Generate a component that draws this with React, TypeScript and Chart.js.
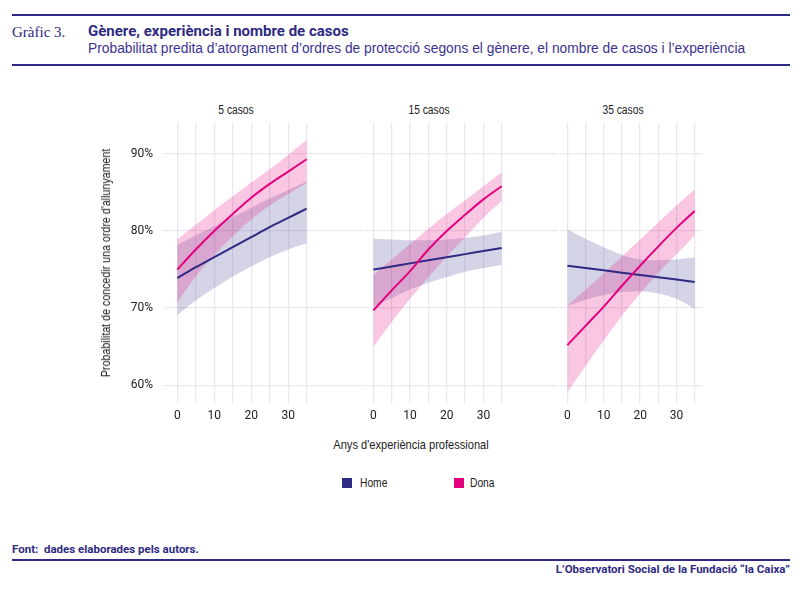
import React, { useEffect, useRef } from 'react';
import { Chart, registerables } from 'chart.js';

Chart.register(...registerables);

// years of professional experience
const years = [0, 5, 10, 15, 20, 25, 30, 35];
const xTicks = [0, 5, 10, 15, 20, 25, 30, 35];
const yTicks = [60, 70, 80, 90];
const panelTitles = ['5 casos', '15 casos', '35 casos'];

// 5 casos
const home5 = [73.9, 75.3, 76.6, 77.9, 79.2, 80.5, 81.7, 82.9];
const home5Upper = [78.2, 79.4, 80.6, 81.8, 83.0, 84.2, 85.3, 86.4];
const home5Lower = [69.1, 71.0, 72.6, 74.1, 75.4, 76.6, 77.6, 78.4];
const dona5 = [75.0, 77.6, 80.0, 82.2, 84.3, 86.1, 87.7, 89.3];
const dona5Upper = [78.9, 80.8, 82.7, 84.5, 86.3, 88.0, 89.9, 91.8];
const dona5Lower = [70.7, 74.1, 76.9, 79.3, 81.5, 83.3, 84.8, 86.2];

// 15 casos
const home15 = [75.0, 75.4, 75.8, 76.2, 76.6, 77.0, 77.4, 77.8];
const home15Upper = [79.0, 78.9, 78.8, 78.8, 78.9, 79.1, 79.4, 79.9];
const home15Lower = [70.2, 71.3, 72.4, 73.3, 74.0, 74.7, 75.2, 75.6];
const dona15 = [69.7, 72.3, 74.8, 77.6, 80.0, 82.1, 84.1, 85.8];
const dona15Upper = [74.3, 76.3, 78.3, 80.3, 82.2, 84.0, 85.8, 87.6];
const dona15Lower = [65.0, 68.2, 71.2, 74.0, 76.7, 79.2, 81.7, 83.9];

// 35 casos
const home35 = [75.5, 75.2, 74.9, 74.6, 74.3, 74.0, 73.7, 73.4];
const home35Upper = [80.2, 79.0, 77.9, 76.9, 76.3, 76.2, 76.3, 76.6];
const home35Lower = [70.3, 71.1, 71.7, 72.1, 72.2, 71.9, 71.2, 69.9];
const dona35 = [65.2, 67.7, 70.2, 72.9, 75.5, 78.0, 80.4, 82.6];
const dona35Upper = [70.3, 72.4, 74.5, 76.7, 78.9, 81.1, 83.3, 85.4];
const dona35Lower = [59.1, 62.5, 65.8, 69.0, 71.9, 74.6, 77.0, 79.4];

const panels = [
  { home: home5, homeUp: home5Upper, homeLo: home5Lower, dona: dona5, donaUp: dona5Upper, donaLo: dona5Lower },
  { home: home15, homeUp: home15Upper, homeLo: home15Lower, dona: dona15, donaUp: dona15Upper, donaLo: dona15Lower },
  { home: home35, homeUp: home35Upper, homeLo: home35Lower, dona: dona35, donaUp: dona35Upper, donaLo: dona35Lower },
];

const NAVY = '#2e2a83';
const PINK = '#e5007d';
const HOME_FILL = 'rgba(46, 42, 131, 0.2)';
const DONA_FILL = 'rgba(229, 0, 125, 0.22)';
const GRID = '#e9e7f0';
const SANS = '"Liberation Sans", Arial, sans-serif';

// canvas placement of each facet (page px) and x range so the panels join up
const layout = [
  { left: 90, width: 274, xMin: -3.86, xMax: 50.5, yAxis: true },
  { left: 364, width: 194, xMin: -2.08, xMax: 50.35, yAxis: false },
  { left: 558, width: 144, xMin: -1.89, xMax: 37.0, yAxis: false },
];
const CANVAS_TOP = 101;
const CANVAS_H = 334;

const pts = (vals: number[]) => vals.map((y, i) => ({ x: years[i], y }));

const Panel: React.FC<{ idx: number }> = ({ idx }) => {
  const ref = useRef<HTMLCanvasElement>(null);
  const inst = useRef<Chart | null>(null);

  useEffect(() => {
    if (!ref.current) return;
    const p = panels[idx];
    const l = layout[idx];
    if (inst.current) inst.current.destroy();

    const band = (vals: number[], color: string, fill: any) => ({
      data: pts(vals),
      borderWidth: 0,
      borderColor: 'transparent',
      backgroundColor: color,
      pointRadius: 0,
      fill,
      cubicInterpolationMode: 'monotone' as const,
    });
    const line = (vals: number[], color: string) => ({
      data: pts(vals),
      borderWidth: 2,
      borderColor: color,
      pointRadius: 0,
      fill: false,
      cubicInterpolationMode: 'monotone' as const,
    });

    inst.current = new Chart(ref.current, {
      type: 'line',
      data: {
        datasets: [
          { label: 'Dona', ...line(p.dona, PINK) },
          { label: 'Home', ...line(p.home, NAVY) },
          { label: 'dona sup', ...band(p.donaUp, DONA_FILL, '+1') },
          { label: 'dona inf', ...band(p.donaLo, DONA_FILL, false) },
          { label: 'home sup', ...band(p.homeUp, HOME_FILL, '+1') },
          { label: 'home inf', ...band(p.homeLo, HOME_FILL, false) },
        ] as any,
      },
      options: {
        responsive: false,
        animation: false,
        events: [],
        layout: { padding: { top: 22, bottom: 0, left: 0, right: 0 } },
        plugins: {
          legend: { display: false },
          tooltip: { enabled: false },
          title: { display: false },
        },
        scales: {
          x: {
            type: 'linear',
            min: l.xMin,
            max: l.xMax,
            afterBuildTicks: (axis: any) => {
              axis.ticks = xTicks.map((v) => ({ value: v }));
            },
            afterFit: (axis: any) => {
              axis.height = 32;
            },
            grid: { color: GRID, lineWidth: 1.3, drawTicks: false },
            border: { display: false },
            ticks: {
              padding: 6,
              color: '#222',
              font: { family: 'Roboto', size: 12 },
              maxRotation: 0,
              autoSkip: false,
              callback: (v: any) => (Number(v) % 10 === 0 ? String(v) : ''),
            },
          },
          y: {
            type: 'linear',
            min: 57.7,
            max: 94.0,
            afterBuildTicks: (axis: any) => {
              axis.ticks = yTicks.map((v) => ({ value: v }));
            },
            afterFit: (axis: any) => {
              axis.width = l.yAxis ? 73 : 0;
            },
            grid: { color: GRID, lineWidth: 1.3, drawTicks: false },
            border: { display: false },
            ticks: {
              display: l.yAxis,
              padding: 10,
              color: '#222',
              font: { family: 'Roboto', size: 12 },
              callback: (v: any) => v + '%',
            },
          },
        },
      },
    });

    return () => {
      if (inst.current) {
        inst.current.destroy();
        inst.current = null;
      }
    };
  }, [idx]);

  const l = layout[idx];
  return (
    <canvas
      ref={ref}
      width={l.width}
      height={CANVAS_H}
      style={{ position: 'absolute', left: l.left, top: CANVAS_TOP, width: l.width, height: CANVAS_H }}
    />
  );
};

// narrow sans look: Liberation Sans squeezed sideways
const narrow = (fontSize: number, origin: string, extra: React.CSSProperties = {}): React.CSSProperties => ({
  position: 'absolute',
  whiteSpace: 'nowrap',
  margin: 0,
  fontFamily: SANS,
  fontSize,
  lineHeight: `${Math.round(fontSize + 3)}px`,
  color: '#222',
  transform: 'scaleX(0.82)',
  transformOrigin: origin,
  ...extra,
});

const App: React.FC = () => {
  const titleCenters = [236, 429, 623];
  return (
    <div
      style={{
        position: 'absolute',
        left: 0,
        top: 0,
        width: 800,
        height: 591,
        background: '#fff',
        overflow: 'hidden',
        fontFamily: SANS,
      }}
    >
      <div style={{ position: 'absolute', left: 12, top: 14, width: 778, height: 2, background: NAVY }} />
      <div style={{ position: 'absolute', left: 12, top: 64, width: 778, height: 2, background: NAVY }} />
      <div
        style={{
          position: 'absolute',
          whiteSpace: 'nowrap',
          left: 12,
          top: 24,
          fontFamily: '"Liberation Serif", serif',
          fontSize: 15,
          lineHeight: '16px',
          color: NAVY,
        }}
      >
        Gràfic 3.
      </div>
      <div
        style={{
          position: 'absolute',
          whiteSpace: 'nowrap',
          left: 88,
          top: 23,
          fontFamily: 'Roboto, sans-serif',
          fontWeight: 700,
          fontSize: 15,
          lineHeight: '16px',
          color: NAVY,
        }}
      >
        Gènere, experiència i nombre de casos
      </div>
      <div
        style={narrow(15.5, 'left center', {
          left: 88,
          top: 39,
          lineHeight: '17px',
          color: '#3b3391',
          transform: 'scaleX(0.89)',
        })}
      >
        Probabilitat predita d’atorgament d’ordres de protecció segons el gènere, el nombre de casos i l’experiència
      </div>

      {panelTitles.map((t, i) => (
        <div
          key={t}
          style={narrow(12.5, 'center', {
            left: titleCenters[i] - 60,
            width: 120,
            textAlign: 'center',
            top: 102,
          })}
        >
          {t}
        </div>
      ))}

      {[0, 1, 2].map((i) => (
        <Panel key={i} idx={i} />
      ))}

      <div
        style={narrow(13, 'center', {
          left: 106 - 160,
          width: 320,
          top: 263 - 8,
          textAlign: 'center',
          transform: 'rotate(-90deg) scaleX(0.82)',
        })}
      >
        Probabilitat de concedir una ordre d'allunyament
      </div>

      <div
        style={narrow(13.5, 'center', {
          left: 311,
          width: 200,
          textAlign: 'center',
          top: 436,
        })}
      >
        Anys d'experiència professional
      </div>

      <div style={{ position: 'absolute', left: 342, top: 478, width: 10, height: 10, background: NAVY }} />
      <div style={narrow(12.5, 'left center', { left: 360, top: 475 })}>Home</div>
      <div style={{ position: 'absolute', left: 454, top: 478, width: 10, height: 10, background: PINK }} />
      <div style={narrow(12.5, 'left center', { left: 470, top: 475 })}>Dona</div>

      <div
        style={{
          position: 'absolute',
          whiteSpace: 'nowrap',
          left: 12,
          top: 542,
          fontFamily: 'Roboto, sans-serif',
          fontWeight: 700,
          fontSize: 11.5,
          lineHeight: '14px',
          color: NAVY,
        }}
      >
        Font:&nbsp; dades elaborades pels autors.
      </div>
      <div style={{ position: 'absolute', left: 12, top: 559, width: 778, height: 2, background: NAVY }} />
      <div
        style={{
          position: 'absolute',
          whiteSpace: 'nowrap',
          right: 10,
          top: 562,
          fontFamily: 'Roboto, sans-serif',
          fontWeight: 700,
          fontSize: 11.5,
          lineHeight: '14px',
          color: NAVY,
        }}
      >
        L’Observatori Social de la Fundació “la Caixa”
      </div>
    </div>
  );
};

export default App;
